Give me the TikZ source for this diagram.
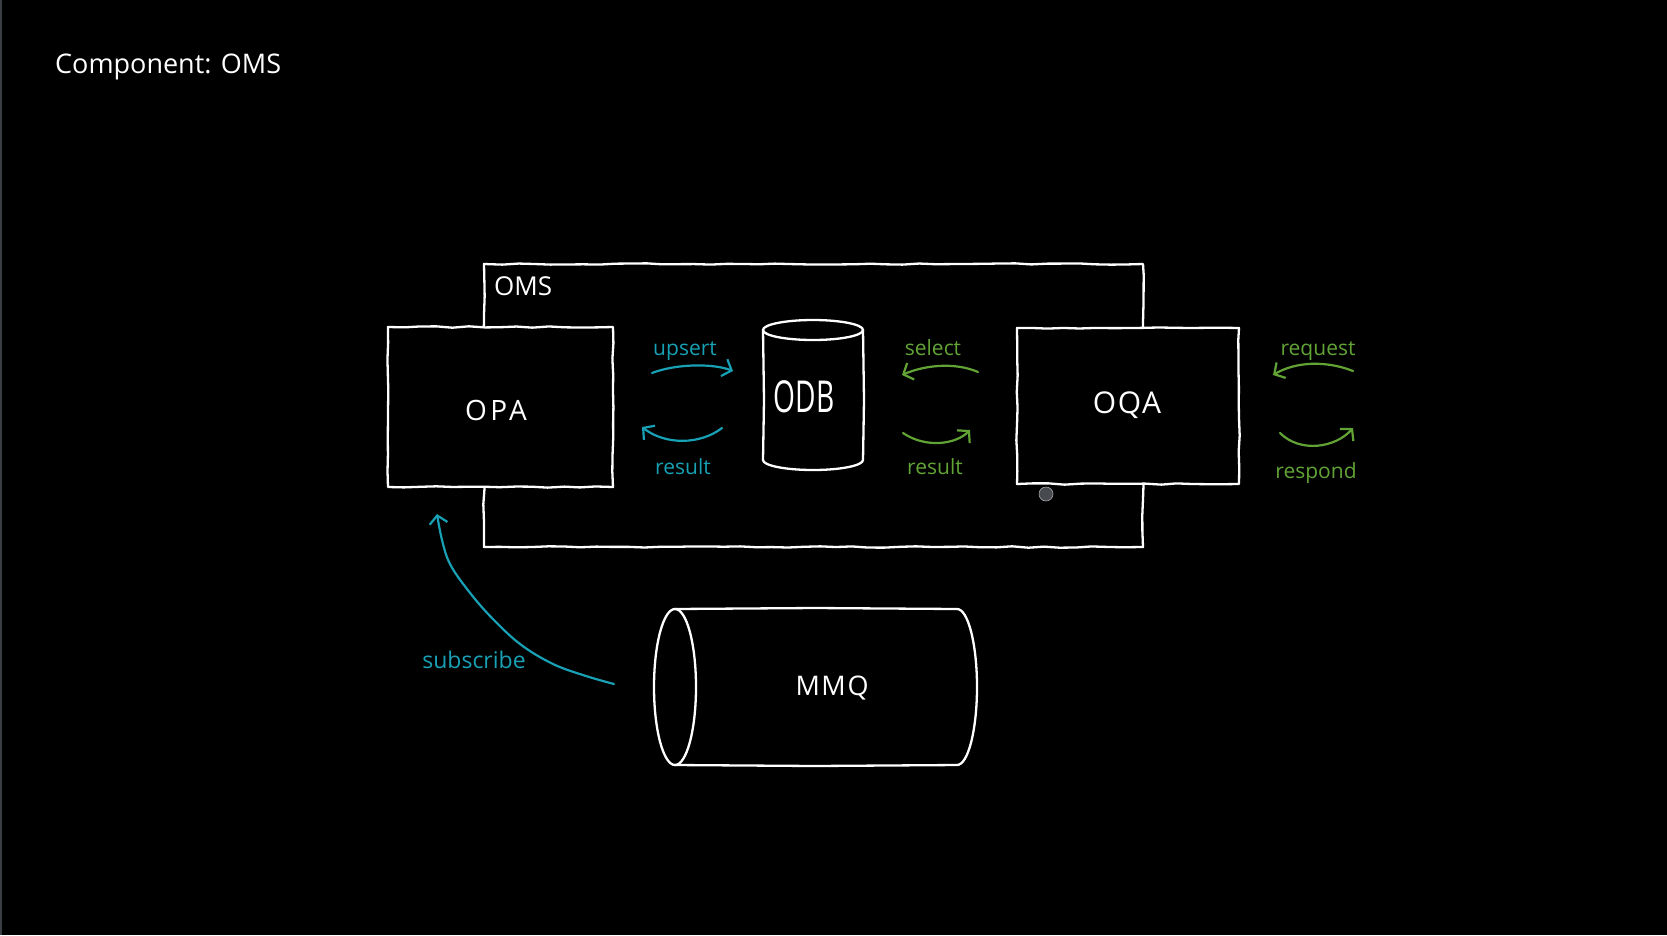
\documentclass[tikz,border=0pt]{standalone}
\usepackage{fontspec}
\setmainfont{Open Sans}
\usetikzlibrary{arrows.meta,decorations.pathmorphing}
\definecolor{cy}{HTML}{18A0B5}
\definecolor{gr}{HTML}{62A336}
\definecolor{dotgray}{HTML}{474B50}
\definecolor{edgegray}{HTML}{3C4046}
\begin{document}
\begin{tikzpicture}[x=1pt,y=-1pt,
  chalkline/.style={draw=white, line width=2.3pt, line join=round, line cap=round},
  chalk/.style={chalkline,
    decorate, decoration={random steps, segment length=16pt, amplitude=0.7pt}},
  box/.style={chalk, fill=black, rectangle, inner sep=0pt},
  wlabel/.style={text=white, inner sep=0pt},
  clabel/.style={text=cy, inner sep=0pt, font=\fontsize{21}{24}\selectfont},
  glabel/.style={text=gr, inner sep=0pt, font=\fontsize{21}{24}\selectfont},
  cyarr/.style={draw=cy, line width=2.2pt, line cap=round,
    -{Straight Barb[length=8pt,width=18pt,line width=2.2pt]}},
  grarr/.style={draw=gr, line width=2.2pt, line cap=round,
    -{Straight Barb[length=8pt,width=18pt,line width=2.2pt]}}]
\pgfmathsetseed{7}
\useasboundingbox (0,0) rectangle (1667,935);
\fill[black] (0,0) rectangle (1667,935);
\fill[edgegray] (0,0) rectangle (2,935);

% title
\node[wlabel, anchor=base west, font=\fontsize{27}{32}\selectfont] (title) at (55,73) {Component: OMS};

% OMS frame
\node[chalk, rectangle, minimum width=659pt, minimum height=283pt, inner sep=0pt] (oms) at (813.5,405.5) {};
\node[wlabel, anchor=base west, font=\fontsize{26}{30}\selectfont] (omslbl) at (494,295) {OMS};

% OPA and OQA
\node[box, minimum width=225pt, minimum height=160pt] (opabox) at (500.5,407) {};
\node[wlabel, font=\fontsize{28}{32}\selectfont\addfontfeatures{LetterSpace=12}] (opa) at (496,410) {OPA};
\node[box, minimum width=222pt, minimum height=156pt] (oqabox) at (1128,406) {};
\node[wlabel, font=\fontsize{30}{34}\selectfont\addfontfeatures{LetterSpace=5}] (oqa) at (1127,405) {OQA};

% ODB cylinder
\draw[chalkline] (813,330) ellipse [x radius=50, y radius=10];
\draw[chalkline] (763,330) -- (764,400) -- (763,460) arc[start angle=180, end angle=0, x radius=50, y radius=10] -- (864,400) -- (863,330);
\node[wlabel, font=\fontsize{44}{48}\selectfont] (odb) at (804,397) {\scalebox{0.64}[1]{ODB}};

% MMQ cylinder
\draw[chalkline] (675,687) ellipse [x radius=21, y radius=78];
\draw[chalkline] (675,609) -- (815,608) -- (957,609) arc[start angle=-90, end angle=90, x radius=20, y radius=78] -- (815,766) -- (675,765);
\node[wlabel, font=\fontsize{27}{30}\selectfont\addfontfeatures{LetterSpace=6}] (mmq) at (832,688) {MMQ};

% gray dot
\fill[dotgray, draw=gray!70, line width=0.6pt] (1046,494) circle[radius=7];

% arrow end points
\coordinate (u1) at (652,373);  \coordinate (u2) at (733,371);
\coordinate (r1) at (722,428);  \coordinate (r2) at (642,427);
\coordinate (s1) at (978,372);  \coordinate (s2) at (902,375);
\coordinate (t1) at (903,433);  \coordinate (t2) at (970,430);
\coordinate (q1) at (1353,371); \coordinate (q2) at (1273,375);
\coordinate (p1) at (1280,433); \coordinate (p2) at (1353,428);
\coordinate (m1) at (614,684);  \coordinate (m2) at (437,514);

% cyan arrows
\draw[cyarr] (u1) .. controls (675,364) and (712,363) .. (u2);
\node[clabel] (upsert) at (685,351) {upsert};
\draw[cyarr] (r1) .. controls (700,445) and (665,445) .. (r2);
\node[clabel] (result1) at (683,467) {result};
\draw[cyarr] plot[smooth, tension=0.6] coordinates {(m1) (586,676) (553,664) (520,644) (490,616) (467,589) (450,564) (442,540) (m2)};
\node[clabel, font=\fontsize{23}{26}\selectfont] (subscribe) at (474,660) {subscribe};

% green arrows
\draw[grarr] (s1) .. controls (955,362) and (925,365) .. (s2);
\node[glabel] (select) at (933,348) {select};
\draw[grarr] (t1) .. controls (925,448) and (955,445) .. (t2);
\node[glabel] (result2) at (935,467) {result};
\draw[grarr] (q1) .. controls (1325,360) and (1295,362) .. (q2);
\node[glabel] (request) at (1318,351) {request};
\draw[grarr] (p1) .. controls (1300,453) and (1335,448) .. (p2);
\node[glabel] (respond) at (1316,473) {respond};
\end{tikzpicture}
\end{document}
